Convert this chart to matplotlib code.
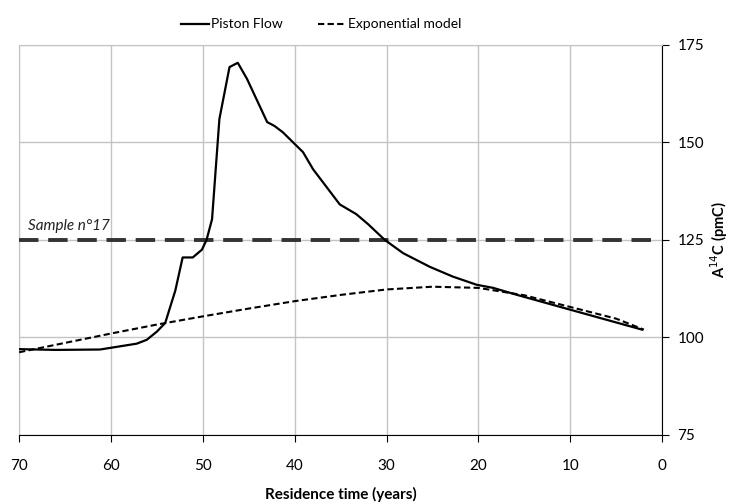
import numpy as np
import matplotlib.pyplot as plt

plt.rcParams['font.family'] = ['Lato', 'DejaVu Sans']

# residence time (years) and A14C (pmC)
piston_t = [70, 66, 61.2, 57.2, 56.1, 55, 54.1, 53, 52.2, 51.1, 50.1, 49.6, 49.0,
            48.2, 47.1, 46.2, 45.2, 43.0, 42.2, 41.3, 39.1, 38.0, 37.0, 35.1, 33.3,
            32.0, 30.2, 28.2, 25.3, 22.8, 20.2, 18.4, 15.8, 10, 2.2]
piston_a = [97, 96.8, 96.9, 98.4, 99.4, 101.5, 103.7, 112, 120.5, 120.5, 122.5, 125,
            130.3, 156, 169.3, 170.4, 166.3, 155.2, 154.2, 152.6, 147.5, 143.1, 140,
            134.1, 131.6, 129, 125, 121.6, 118.1, 115.6, 113.5, 112.7, 110.9, 107.1, 102]

expo_t = [70, 65, 60, 55, 50, 45, 40, 35, 30, 25, 20, 15, 10, 5, 2]
expo_a = [96.2, 98.6, 101.0, 103.3, 105.4, 107.4, 109.3, 110.9, 112.3, 113.0, 112.7,
          110.8, 107.8, 104.8, 102]

sample_t = [70, 1]
sample_a = [125, 125]

fig = plt.figure(figsize=(7.35, 5.04), dpi=100)
ax = fig.add_axes([0.026, 0.137, 0.875, 0.774])

ax.plot(sample_t, sample_a, color='#333333', lw=2.8, ls=(0, (5, 2.5)), zorder=3)
ax.plot(piston_t, piston_a, color='black', lw=1.6, label='Piston Flow', zorder=4)
ax.plot(expo_t, expo_a, color='black', lw=1.5, ls=(0, (3, 1.6)),
        label='Exponential model', zorder=4)

ax.text(69, 127.5, 'Sample n°17', fontsize=11, style='italic', color='#222222')

ax.set_xlim(70, 0)
ax.set_ylim(75, 175)
ax.set_xticks(np.arange(70, -1, -10))
ax.set_yticks([75, 100, 125, 150, 175])
ax.grid(True, color='#c4c4c4', lw=1)
ax.set_axisbelow(True)

ax.yaxis.tick_right()
ax.yaxis.set_label_position('right')
ax.spines['left'].set_color('#c4c4c4')
ax.spines['top'].set_color('#c4c4c4')
ax.spines['right'].set_color('black')
ax.spines['bottom'].set_color('black')
ax.tick_params(axis='x', direction='out', length=5, labelsize=11, pad=12)
ax.tick_params(axis='y', direction='out', length=5, labelsize=11, pad=6)

ax.set_xlabel('Residence time (years)', fontsize=11, fontweight='bold', labelpad=10)
ax.set_ylabel('A$^{14}$C (pmC)', fontsize=10.5, fontweight='bold', labelpad=3)

ax.legend(loc='lower center', bbox_to_anchor=(0.47, 1.005), ncol=2, frameon=False,
          fontsize=10, handlelength=2.0, handletextpad=0.2, columnspacing=2.5)

fig.savefig('out.png', dpi=100)
